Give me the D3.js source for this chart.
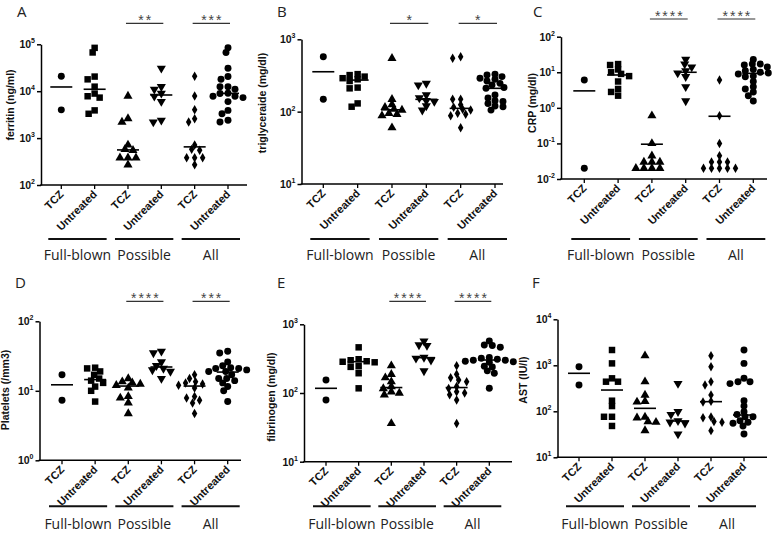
<!DOCTYPE html>
<html>
<head>
<meta charset="utf-8">
<script src="https://cdn.jsdelivr.net/npm/d3@7"></script>
<style>
body { margin: 0; background: #fff; }
text { font-family: "Liberation Sans", Arial, sans-serif; }
</style>
</head>
<body>
<svg id="chart" width="778" height="538"></svg>
<script>
// categories
var groups = ["Full-blown", "Possible", "All"];
var catLabels = ["TCZ", "Untreated", "TCZ", "Untreated", "TCZ", "Untreated"];

// values per category: FB TCZ, FB untreated, possible TCZ, possible untreated, all TCZ, all untreated
var ferritin = [
  [20800, 4000],
  [84000, 67000, 20500, 17900, 12500, 8900, 7800, 7300, 3900, 3300],
  [7900, 2600, 2200, 713, 575, 550, 380, 380, 380, 270],
  [30800, 12500, 11000, 9000, 7800, 6000, 2400, 2200],
  [20800, 7900, 4000, 2600, 2200, 713, 575, 550, 380, 380, 380, 270],
  [84000, 67000, 30800, 20500, 17900, 12500, 12500, 11000, 9000, 8900, 7800, 7800, 7300, 6000, 3900, 3300, 2400, 2200]
];
var ferritinMid = [12300, 11000, 560, 8300, 650, 9000];
var ferritinStars = ["", "**", "***"];

var triglyceride = [
  [575, 148],
  [330, 320, 305, 290, 280, 265, 215, 210, 130, 117],
  [546, 148, 125, 115, 108, 105, 95, 92, 88, 60],
  [246, 233, 170, 155, 142, 138, 120, 105],
  [575, 546, 148, 148, 125, 115, 108, 105, 95, 92, 88, 60],
  [330, 320, 305, 290, 280, 265, 246, 233, 215, 210, 170, 155, 142, 138, 130, 120, 117, 105]
];
var triglycerideMid = [356, 273, 106, 148, 111, 210];
var triglycerideStars = ["", "*", "*"];

var crp = [
  [6.1, 0.02],
  [17, 16, 12, 10, 9, 7.8, 5.5, 3.4, 2.8, 2.2],
  [0.6, 0.1, 0.045, 0.03, 0.03, 0.03, 0.02, 0.02, 0.02, 0.02],
  [23, 17, 14, 11, 9.5, 7.5, 3.9, 1.56],
  [6.1, 0.6, 0.1, 0.045, 0.03, 0.03, 0.03, 0.02, 0.02, 0.02, 0.02, 0.02],
  [23, 17, 17, 16, 14, 12, 11, 10, 9.5, 9, 7.8, 7.5, 5.5, 3.9, 3.4, 2.8, 2.2, 1.56]
];
var crpMid = [3.0, 8.4, 0.095, 10, 0.58, 9.3];
var crpStars = ["", "****", "****"];

var platelets = [
  [17, 7.3],
  [21.5, 21, 19, 17, 15, 14, 13, 11.5, 10, 7],
  [15, 13.5, 13, 12.5, 12, 11, 8.3, 7.9, 6.7, 4.7],
  [37, 35, 26, 23, 21, 20, 19, 15],
  [17, 15, 13.5, 13, 12.5, 12, 11, 8.3, 7.9, 7.3, 6.7, 4.7],
  [37, 35, 26, 23, 21.5, 21, 21, 20, 19, 19, 17, 15, 15, 14, 13, 11.5, 10, 7]
];
var plateletsMid = [12.2, 14.5, 11.7, 22, 11.7, 18.6];
var plateletsStars = ["", "****", "***"];

var fibrinogen = [
  [155, 79],
  [462, 310, 300, 290, 285, 280, 245, 240, 194, 117],
  [250, 187, 167, 146, 124, 116, 104, 100, 94, 36],
  [570, 500, 490, 330, 320, 300, 210],
  [250, 187, 167, 155, 146, 124, 116, 104, 100, 94, 79, 36],
  [570, 500, 490, 462, 330, 320, 310, 300, 300, 290, 285, 280, 245, 240, 210, 194, 117]
];
var fibrinogenMid = [117, 286, 120, 327, 120, 302];
var fibrinogenStars = ["", "****", "****"];

var ast = [
  [933, 373],
  [2150, 1100, 521, 440, 440, 170, 130, 76, 76, 48],
  [1620, 440, 226, 165, 160, 75, 72, 60, 58, 38],
  [400, 98, 85, 62, 58, 55, 32],
  [1620, 933, 440, 373, 226, 165, 160, 75, 72, 60, 58, 38],
  [2150, 1100, 521, 440, 440, 400, 170, 130, 98, 85, 76, 76, 62, 58, 55, 48, 32]
];
var astMid = [670, 290, 116, 61.5, 162, 83];
var astStars = ["", "", ""];

var svg = d3.select("#chart");

// marker per category
var symbols = [d3.symbolCircle, d3.symbolSquare, d3.symbolTriangle, d3.symbolTriangle, d3.symbolDiamond, d3.symbolCircle];
var symSize = [38, 42, 36, 36, 26, 38];
var flip = [0, 0, 0, 180, 0, 0];

var panels = [
  {id: "A", title: "ferritin (ng/ml)", data: ferritin, mid: ferritinMid, stars: ferritinStars, dom: [1e2, 1e5],
   x0: 41, x1: 247, t0: 61.3, t1: 228, yT: 44.3, yB: 185, barY: 23.3, lx: 17, ly: 17, tx: 14, ty: 105, gy: 239, gty: 260},
  {id: "B", title: "triglyceraide (mg/dl)", data: triglyceride, mid: triglycerideMid, stars: triglycerideStars, dom: [1e1, 1e3],
   x0: 301.5, x1: 503, t0: 323.3, t1: 495, yT: 39.3, yB: 184, barY: 23.3, lx: 277, ly: 17, tx: 266, ty: 103, gy: 239, gty: 260},
  {id: "C", title: "CRP (mg/dl)", data: crp, mid: crpMid, stars: crpStars, dom: [1e-2, 1e2],
   x0: 561, x1: 767, t0: 584.3, t1: 753.3, yT: 36.7, yB: 179, barY: 19, lx: 533, ly: 17, tx: 536, ty: 103, gy: 239, gty: 260},
  {id: "D", title: "Platelets (/mm3)", data: platelets, mid: plateletsMid, stars: plateletsStars, dom: [1e0, 1e2],
   x0: 39.5, x1: 241, t0: 62, t1: 227.7, yT: 321.3, yB: 460.3, barY: 301.3, lx: 15, ly: 288, tx: 9, ty: 390, gy: 506.3, gty: 529},
  {id: "E", title: "fibrinogen (mg/dl)", data: fibrinogen, mid: fibrinogenMid, stars: fibrinogenStars, dom: [1e1, 1e3],
   x0: 304, x1: 512, t0: 326, t1: 489.3, yT: 324.3, yB: 461.7, barY: 301.3, lx: 277, ly: 288, tx: 275, ty: 397, gy: 506.3, gty: 529},
  {id: "F", title: "AST (IU/l)", data: ast, mid: astMid, stars: astStars, dom: [1e1, 1e4],
   x0: 557.5, x1: 767, t0: 579, t1: 744, yT: 319.3, yB: 457.3, barY: 301.3, lx: 532, ly: 288, tx: 527, ty: 380, gy: 506.3, gty: 529}
];

panels.forEach(function(p) {
  var g = svg.append("g");
  var x = d3.scalePoint().domain(d3.range(6)).range([p.t0, p.t1]);
  var y = d3.scaleLog().domain(p.dom).range([p.yB, p.yT]);
  var lo = Math.round(Math.log10(p.dom[0])), hi = Math.round(Math.log10(p.dom[1]));
  var exps = d3.range(lo, hi + 1);

  // y axis
  g.append("g")
    .attr("transform", "translate(" + p.x0 + ",0)")
    .call(d3.axisLeft(y).tickValues(exps.map(function(e) { return Math.pow(10, e); }))
      .tickSize(4).tickSizeOuter(0).tickFormat(""))
    .call(function(a) {
      a.selectAll("path,line").attr("stroke", "#000").attr("stroke-width", 1.5);
    });

  var yl = g.selectAll(".ytl").data(exps).enter().append("text")
    .attr("x", p.x0 - 6)
    .attr("y", function(e) { return y(Math.pow(10, e)) + 4; })
    .attr("text-anchor", "end")
    .attr("font-size", 10.5)
    .attr("font-weight", "bold")
    .attr("fill", "#111");
  yl.append("tspan").text("10");
  yl.append("tspan").attr("dy", -5).attr("font-size", 7).text(function(e) { return e; });

  // x axis
  g.append("line")
    .attr("x1", p.x0 - 0.75).attr("x2", p.x1)
    .attr("y1", p.yB).attr("y2", p.yB)
    .attr("stroke", "#000").attr("stroke-width", 1.5);
  g.selectAll(".xt").data(d3.range(6)).enter().append("line")
    .attr("x1", function(i) { return x(i); }).attr("x2", function(i) { return x(i); })
    .attr("y1", p.yB).attr("y2", p.yB + 4)
    .attr("stroke", "#000").attr("stroke-width", 1.3);
  g.selectAll(".xtl").data(catLabels).enter().append("text")
    .attr("transform", function(d, i) { return "translate(" + (x(i) + 3) + "," + (p.yB + 10) + ") rotate(-45)"; })
    .attr("text-anchor", "end")
    .attr("font-size", 11)
    .attr("font-weight", "bold")
    .attr("fill", "#111")
    .text(function(d) { return d; });

  // y title
  g.append("text")
    .attr("transform", "translate(" + p.tx + "," + p.ty + ") rotate(-90)")
    .attr("text-anchor", "middle")
    .attr("font-size", 10.5)
    .attr("font-weight", "bold")
    .attr("fill", "#111")
    .text(p.title);

  // panel letter
  g.append("text")
    .attr("x", p.lx).attr("y", p.ly)
    .attr("font-size", 15)
    .attr("fill", "#222")
    .style("font-family", "'Open Sans', sans-serif")
    .text(p.id);

  // points, spread sideways only where they sit at nearly the same height
  p.data.forEach(function(vals, i) {
    var placed = [];
    vals.slice().sort(d3.descending).forEach(function(v) {
      var py = y(v), off = 0;
      for (var k = 0; k < 80; k++) {
        off = k === 0 ? 0 : (k % 2 ? -1 : 1) * Math.ceil(k / 2);
        var ok = placed.every(function(q) {
          return Math.hypot(q.x - off, (q.y - py) * 1.7) >= 8;
        });
        if (ok) break;
      }
      placed.push({x: off, y: py});
      g.append("path")
        .attr("d", d3.symbol().type(symbols[i]).size(symSize[i])())
        .attr("transform", "translate(" + (x(i) + off) + "," + py + ") rotate(" + flip[i] + ")")
        .attr("fill", "#000");
    });
  });

  // centre lines
  g.selectAll(".mid").data(p.mid).enter().append("line")
    .attr("x1", function(d, i) { return x(i) - 11; })
    .attr("x2", function(d, i) { return x(i) + 11; })
    .attr("y1", function(d) { return y(d); })
    .attr("y2", function(d) { return y(d); })
    .attr("stroke", "#000").attr("stroke-width", 1.6);

  // significance bars
  p.stars.forEach(function(s, j) {
    if (!s) return;
    var a = x(2 * j) - 2, b = x(2 * j + 1) + 2;
    g.append("line")
      .attr("x1", a).attr("x2", b).attr("y1", p.barY).attr("y2", p.barY)
      .attr("stroke", "#333").attr("stroke-width", 1.2);
    g.append("text")
      .attr("x", (a + b) / 2 + 1).attr("y", p.barY + 1.5)
      .attr("text-anchor", "middle")
      .attr("font-size", 14)
      .attr("letter-spacing", 2)
      .attr("fill", "#444")
      .text(s);
  });

  // group brackets
  groups.forEach(function(name, j) {
    var a = x(2 * j) - 13, b = x(2 * j + 1) + 12;
    g.append("line")
      .attr("x1", a).attr("x2", b).attr("y1", p.gy).attr("y2", p.gy)
      .attr("stroke", "#111").attr("stroke-width", 2);
    g.append("text")
      .attr("x", (a + b) / 2).attr("y", p.gty)
      .attr("text-anchor", "middle")
      .attr("font-size", 14)
      .attr("fill", "#222")
      .style("font-family", "'Open Sans', sans-serif")
      .text(name);
  });
});
</script>
</body>
</html>
